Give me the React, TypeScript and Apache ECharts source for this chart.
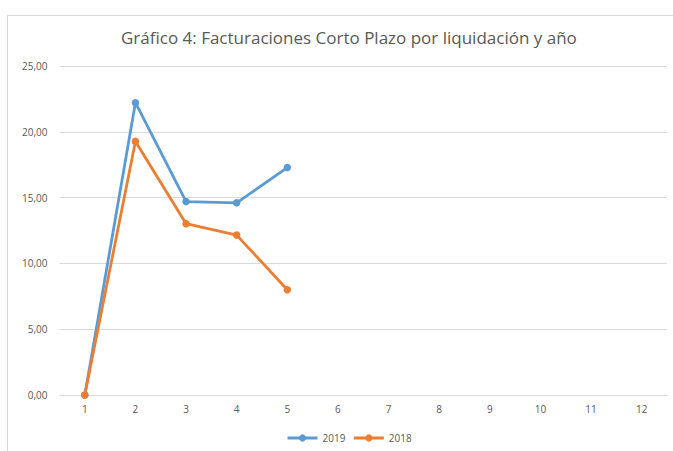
import React, { useEffect, useRef } from "react";
import * as echarts from "echarts";

const categories = ["1", "2", "3", "4", "5", "6", "7", "8", "9", "10", "11", "12"];
const values2019 = [0, 22.21, 14.7, 14.6, 17.28];
const values2018 = [0, 19.27, 13.02, 12.15, 8.0];
const seriesNames = ["2019", "2018"];
const titleText = "Gráfico 4: Facturaciones Corto Plazo por liquidación y año";

export default function App() {
  const ref = useRef<HTMLDivElement>(null);
  useEffect(() => {
    const chart = echarts.init(ref.current!, null, { renderer: "svg" });
    const textColor = "#595959";
    const font = "Open Sans";
    chart.setOption({
      animation: false,
      backgroundColor: "#ffffff",
      graphic: [
        {
          type: "rect",
          shape: { x: 7.5, y: 15.5, width: 720, height: 500 },
          style: { fill: "none", stroke: "#d9d9d9", lineWidth: 1 },
          silent: true,
        },
      ],
      title: {
        text: titleText,
        left: 116,
        top: 24,
        textStyle: { color: textColor, fontSize: 17, fontWeight: "normal", fontFamily: font },
      },
      legend: {
        data: seriesNames,
        top: 433,
        left: 286,
        padding: 0,
        itemWidth: 30,
        itemHeight: 9,
        itemGap: 7,
        lineStyle: { width: 3 },
        textStyle: { color: textColor, fontSize: 10, fontFamily: font },
      },
      grid: { left: 59.5, right: 6, top: 66, bottom: 56 },
      xAxis: {
        type: "category",
        data: categories,
        boundaryGap: true,
        axisLine: { lineStyle: { color: "#d9d9d9", width: 1 } },
        axisTick: { show: false },
        axisLabel: { color: textColor, fontSize: 10, fontFamily: font, margin: 9 },
      },
      yAxis: {
        type: "value",
        min: 0,
        max: 25,
        interval: 5,
        axisLine: { show: false },
        axisTick: { show: false },
        splitLine: { lineStyle: { color: "#d9d9d9", width: 1 } },
        axisLabel: {
          color: textColor,
          fontSize: 10,
          fontFamily: font,
          margin: 12,
          formatter: (v: number) => v.toFixed(2).replace(".", ","),
        },
      },
      series: [
        {
          name: seriesNames[0],
          type: "line",
          data: values2019,
          symbol: "circle",
          symbolSize: 7.5,
          lineStyle: { color: "#5b9bd5", width: 2.8 },
          itemStyle: { color: "#5b9bd5" },
        },
        {
          name: seriesNames[1],
          type: "line",
          data: values2018,
          symbol: "circle",
          symbolSize: 7.5,
          lineStyle: { color: "#ed7d31", width: 2.8 },
          itemStyle: { color: "#ed7d31" },
        },
      ],
    });
    return () => chart.dispose();
  }, []);
  return (
    <div
      ref={ref}
      style={{ position: "fixed", left: 0, top: 0, width: 673, height: 451 }}
    />
  );
}
